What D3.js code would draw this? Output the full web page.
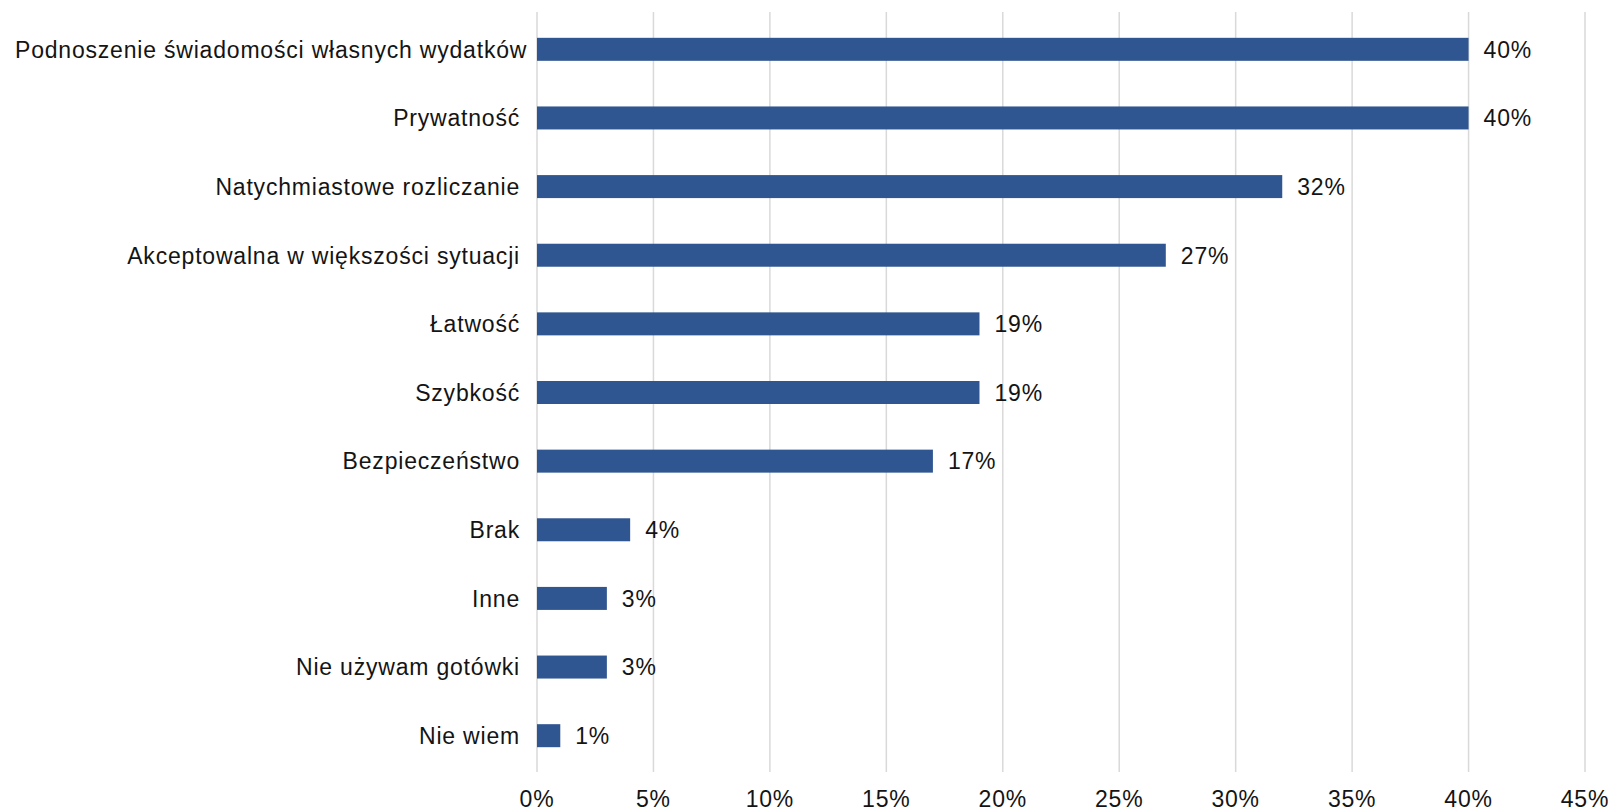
<!DOCTYPE html>
<html>
<head>
<meta charset="utf-8">
<script src="https://cdn.jsdelivr.net/npm/d3@7"></script>
<style>
    body { margin: 0; background: #fff; }
    svg text { font-family: "Liberation Sans", Arial, sans-serif; fill: #141414; letter-spacing: 0.8px; }
</style>
</head>
<body>
<svg class="d3" width="1611" height="811"></svg>
<script>
const categories = [
    'Podnoszenie świadomości własnych wydatków',
    'Prywatność',
    'Natychmiastowe rozliczanie',
    'Akceptowalna w większości sytuacji',
    'Łatwość',
    'Szybkość',
    'Bezpieczeństwo',
    'Brak',
    'Inne',
    'Nie używam gotówki',
    'Nie wiem'
];
const values = [40, 40, 32, 27, 19, 19, 17, 4, 3, 3, 1];
const xTicks = [0, 5, 10, 15, 20, 25, 30, 35, 40, 45];

const svg = d3.select('svg.d3');
const plot = { left: 537, right: 1585, top: 15, bottom: 770 };
const fontSize = 23;
const labelGap = 17;

const x = d3.scaleLinear().domain([0, 45]).range([plot.left, plot.right]);
const y = d3.scaleBand().domain(categories).range([plot.top, plot.bottom]).paddingInner(0.665).paddingOuter(0.3325);

// gridlines
svg.append('g')
    .selectAll('line')
    .data(xTicks)
    .enter()
    .append('line')
    .attr('x1', d => x(d)).attr('x2', d => x(d))
    .attr('y1', 12).attr('y2', 772)
    .attr('stroke', '#d9d9d9')
    .attr('stroke-width', 1.5);

// bars
svg.append('g')
    .selectAll('rect')
    .data(values)
    .enter()
    .append('rect')
    .attr('x', x(0))
    .attr('y', (d, i) => y(categories[i]))
    .attr('width', d => x(d) - x(0))
    .attr('height', y.bandwidth())
    .attr('fill', '#2f5690');

// value labels
svg.append('g')
    .selectAll('text')
    .data(values)
    .enter()
    .append('text')
    .attr('x', d => x(d) + 15)
    .attr('y', (d, i) => y(categories[i]) + y.bandwidth() / 2)
    .attr('dy', '0.36em')
    .attr('font-size', fontSize)
    .text(d => d + '%');

// category labels, clamped to the left edge like Excel does
const catLabels = svg.append('g')
    .selectAll('text')
    .data(categories)
    .enter()
    .append('text')
    .attr('x', plot.left - labelGap)
    .attr('y', d => y(d) + y.bandwidth() / 2)
    .attr('dy', '0.36em')
    .attr('text-anchor', 'end')
    .attr('font-size', fontSize)
    .text(d => d);

catLabels.each(function () {
    const w = this.getComputedTextLength();
    if (plot.left - labelGap - w < 15) {
        d3.select(this).attr('text-anchor', 'start').attr('x', 15);
    }
});

// x axis labels
svg.append('g')
    .selectAll('text')
    .data(xTicks)
    .enter()
    .append('text')
    .attr('x', d => x(d))
    .attr('y', 807)
    .attr('text-anchor', 'middle')
    .attr('font-size', fontSize)
    .text(d => d + '%');
</script>
</body>
</html>
